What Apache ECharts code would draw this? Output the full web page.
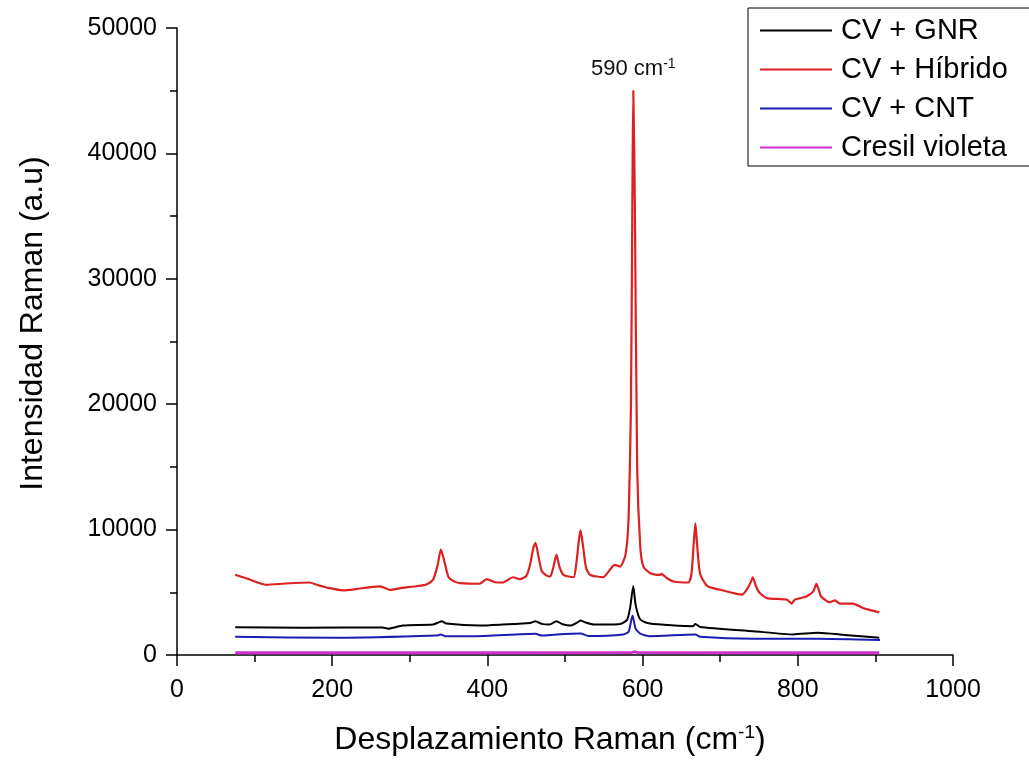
<!DOCTYPE html>
<html>
<head>
<meta charset="utf-8">
<script src="https://cdn.jsdelivr.net/npm/echarts@6/dist/echarts.min.js"></script>
<style>
html,body{margin:0;padding:0;background:#fff;}
#chart{width:1029px;height:761px;}
</style>
</head>
<body>
<div id="chart"></div>
<script>
// ---- Data ----
const seriesNames = ['CV + GNR', 'CV + Híbrido', 'CV + CNT', 'Cresil violeta'];

const hibridoX = [75,90,115,140,171,180,195,214,230,249,262,274,290,310,322,330,336,340,344,350,358,365,390,399,410,420,433,442,450,455,459,462,466,470,476,481,485,489,493,498,511,514,518,520,523,527,532,549,564,571,578,582,585,587,588,590,593,597,601,610,622,624,632,640,659,663,666,668,670,674,683,700,728,736,740,742,746,751,760,786,792,796,811,820,824,827,830,841,848,854,871,884,905];
const hibridoY = [6400,6100,5600,5700,5780,5600,5350,5150,5250,5410,5470,5200,5350,5500,5650,6000,7200,8400,7600,6200,5850,5730,5680,6050,5800,5780,6200,6050,6300,7200,8500,8950,7800,6700,6350,6260,7000,8000,7000,6390,6200,7000,9200,9960,8800,7000,6400,6200,7190,7050,8000,11000,20000,38000,45000,36000,15000,8640,7050,6520,6390,6470,6100,5860,5780,6500,9000,10500,9000,6500,5520,5200,4810,5400,5900,6200,5500,4940,4540,4410,4100,4410,4670,5070,5680,5200,4670,4200,4360,4100,4100,3750,3400];

const gnrX = [75,163,265,272,291,330,337,341,347,390,420,455,462,470,480,489,497,507,516,520,526,537,571,580,584,588,591,597,609,665,668,674,743,794,826,860,905];
const gnrY = [2220,2170,2200,2100,2350,2430,2600,2690,2510,2350,2430,2550,2690,2480,2430,2690,2450,2350,2600,2750,2600,2430,2480,2800,3800,5500,4000,2830,2510,2300,2480,2240,1900,1640,1770,1600,1370];

const cntX = [75,206,335,340,346,382,462,470,489,520,530,575,582,587,591,597,609,668,674,743,826,906];
const cntY = [1450,1370,1550,1640,1500,1500,1690,1550,1640,1720,1520,1640,1850,3150,2100,1700,1500,1640,1450,1290,1290,1190];

const cresilX = [75,300,586,590,594,905];
const cresilY = [180,170,200,260,190,170];

const xTicks = {min: 0, max: 1000, interval: 200};
const yTicks = {min: 0, max: 50000, interval: 10000};
const peakLabel = {x: 588, y: 45000, text: '590 cm', sup: '-1'};

// ---- Build ----
const zip = (xs, ys) => xs.map((x, i) => [x, ys[i]]);
const colors = ['#000000', '#de2020', '#1c1cb0', '#d030d0'];
const FONT = 'Arial, "Liberation Sans", sans-serif';

const chart = echarts.init(document.getElementById('chart'), null, {renderer: 'canvas'});

const baseLine = (name, data, color, width) => ({
  name, type: 'line', data, symbol: 'none', smooth: 0.2,
  lineStyle: {color, width}, itemStyle: {color}, z: 3
});

const series = [
  baseLine(seriesNames[0], zip(gnrX, gnrY), colors[0], 2),
  Object.assign(baseLine(seriesNames[1], zip(hibridoX, hibridoY), colors[1], 2.2), {
    markPoint: {
      symbol: 'circle', symbolSize: 0,
      data: [{coord: [peakLabel.x, peakLabel.y]}],
      label: {
        show: true, position: 'top', offset: [0, -4],
        formatter: '{a|' + peakLabel.text + '}{s|' + peakLabel.sup + '}',
        rich: {
          a: {fontSize: 22, color: '#111', fontFamily: FONT},
          s: {fontSize: 14, color: '#111', fontFamily: FONT, padding: [0, 0, 11, 0]}
        }
      }
    }
  }),
  baseLine(seriesNames[2], zip(cntX, cntY), colors[2], 2),
  baseLine(seriesNames[3], zip(cresilX, cresilY), colors[3], 3)
];

const axisCommon = {
  axisLine: {show: true, onZero: false, lineStyle: {color: '#000', width: 1.5}},
  axisTick: {show: true, inside: false, length: 11, lineStyle: {color: '#000', width: 1.5}},
  minorTick: {show: true, splitNumber: 2, length: 7, lineStyle: {color: '#000', width: 1.5}},
  axisLabel: {fontSize: 25, color: '#000', margin: 20, fontFamily: FONT, formatter: v => String(v)},
  splitLine: {show: false}
};

chart.setOption({
  backgroundColor: '#fff',
  animation: false,
  textStyle: {fontFamily: FONT},
  grid: {left: 177, right: 76, top: 28, bottom: 102, containLabel: false},
  legend: {
    orient: 'vertical', left: 748, top: 8,
    data: seriesNames,
    icon: 'rect', itemWidth: 72, itemHeight: 2, itemGap: 10,
    borderColor: '#000', borderWidth: 1, padding: [8, 24, 4, 12],
    textStyle: {fontSize: 29, color: '#000', fontFamily: FONT, padding: [0, 0, 0, 4]}
  },
  xAxis: Object.assign({
    type: 'value', min: xTicks.min, max: xTicks.max, interval: xTicks.interval,
    name: '{a|Desplazamiento Raman (cm}{s|-1}{a|)}',
    nameLocation: 'middle', nameGap: 68,
    nameTextStyle: {
      padding: [0, 30, 0, 0],
      rich: {
        a: {fontSize: 32, color: '#000', fontFamily: FONT},
        s: {fontSize: 19, color: '#000', fontFamily: FONT, padding: [0, 0, 15, 0]}
      }
    }
  }, axisCommon, {axisLabel: Object.assign({}, axisCommon.axisLabel, {margin: 23})}),
  yAxis: Object.assign({
    type: 'value', min: yTicks.min, max: yTicks.max, interval: yTicks.interval,
    name: 'Intensidad Raman (a.u)',
    nameLocation: 'middle', nameGap: 128,
    nameTextStyle: {fontSize: 32, color: '#000', fontFamily: FONT, padding: [0, 0, 0, 36]}
  }, axisCommon),
  series
});
</script>
</body>
</html>
